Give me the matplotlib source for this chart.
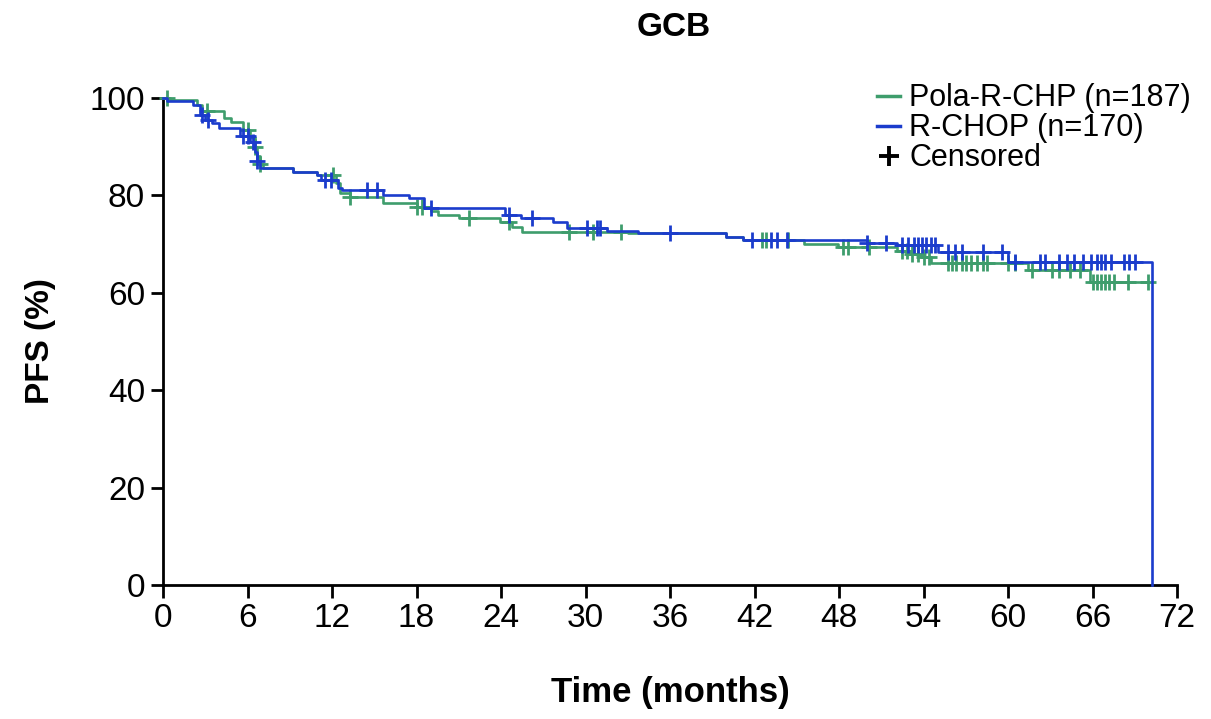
import numpy as np
import matplotlib
matplotlib.use("Agg")
import matplotlib.pyplot as plt
from matplotlib.lines import Line2D

plt.rcParams['font.family'] = ['Liberation Sans', 'DejaVu Sans']

# ---- data ----
pola_times = [0, 0.5, 2.4, 2.8, 4.3, 4.8, 5.7, 6.2, 6.5, 6.7, 6.9, 7.1, 9.2, 10.9,
              12.3, 12.6, 13.3, 15.6, 18.0, 19.0, 19.5, 21.0, 23.9, 24.8, 25.5,
              33.0, 40.0, 41.2, 45.5, 47.9, 52.1, 53.0, 53.8, 54.5, 61.4, 65.8, 69.9]
pola_surv = [100, 99.5, 98.5, 97.3, 95.8, 95.0, 93.4, 92.0, 90.0, 88.0, 86.5, 85.6, 84.8, 84.2,
             82.5, 80.5, 79.7, 78.4, 77.6, 76.8, 76.0, 75.4, 74.6, 73.5, 72.5,
             72.2, 71.5, 70.8, 70.0, 69.4, 68.6, 68.0, 67.4, 66.1, 64.7, 62.2, 62.2]
pola_cens = [0.3, 3.1, 6.0, 6.5, 6.9, 12.1, 13.3, 18.0, 18.4, 21.7, 24.6, 28.8, 30.5, 32.5,
             42.5, 42.8, 44.4, 48.3, 48.6, 50.1, 52.5, 52.8, 53.2, 53.6, 54.0, 54.4, 55.7,
             56.0, 56.3, 56.7, 57.0, 57.4, 57.8, 58.2, 58.5, 60.0, 60.5, 61.7, 63.1, 63.6,
             64.4, 65.1, 66.0, 66.3, 66.6, 66.9, 67.2, 67.5, 68.5, 69.9]

rchop_times = [0, 0.3, 2.1, 2.6, 3.0, 3.5, 4.0, 5.5, 6.2, 6.5, 6.7, 6.9, 9.2, 10.9, 11.2,
               12.4, 12.7, 15.6, 17.5, 18.5, 24.3, 25.4, 27.7, 28.7, 31.5, 33.7, 40.0,
               41.2, 50.0, 52.1, 55.0, 60.0, 70.2, 70.2]
rchop_surv = [100, 99.3, 98.6, 96.5, 95.5, 94.8, 93.8, 92.2, 91.0, 89.0, 87.0, 85.6, 84.8, 84.2, 83.2,
              81.5, 81.1, 80.1, 79.5, 77.4, 76.0, 75.4, 74.6, 73.3, 72.7, 72.3, 71.5,
              70.8, 70.2, 69.8, 68.4, 66.3, 66.3, 0]
rchop_cens = [2.8, 3.2, 5.7, 6.0, 6.4, 6.7, 11.5, 11.9, 14.5, 15.2, 19.0, 24.6, 26.2, 30.1,
              30.8, 31.0, 36.0, 41.8, 43.2, 43.6, 44.3, 50.0, 51.3, 52.5, 52.9, 53.3, 53.6,
              53.9, 54.2, 54.5, 54.8, 55.7, 56.2, 56.7, 58.2, 59.6, 60.5, 62.3, 62.6, 63.6,
              64.2, 64.7, 65.3, 65.9, 66.3, 66.6, 66.9, 67.3, 68.2, 68.6, 69.0]

x_ticks = [0, 6, 12, 18, 24, 30, 36, 42, 48, 54, 60, 66, 72]
y_ticks = [0, 20, 40, 60, 80, 100]

GREEN = '#3e9d6c'
BLUE = '#1b3ccc'


def step_value(times, surv, t):
    idx = np.searchsorted(np.asarray(times), t, side='right') - 1
    return np.asarray(surv)[idx]


fig = plt.figure(figsize=(12.11, 7.19), dpi=100)
ax = fig.add_axes([0.1346, 0.1864, 0.8374, 0.6773])

ax.step(pola_times, pola_surv, where='post', color=GREEN, lw=1.9, clip_on=False, zorder=3)
ax.step(rchop_times, rchop_surv, where='post', color=BLUE, lw=1.9, clip_on=False, zorder=4)

pc = np.array(pola_cens)
ax.plot(pc, [step_value(pola_times, pola_surv, c) for c in pc], ls='none', marker='+',
        ms=12, mew=2.0, color=GREEN, clip_on=False, zorder=3)
rc = np.array(rchop_cens)
ax.plot(rc, [step_value(rchop_times, rchop_surv, c) for c in rc], ls='none', marker='+',
        ms=12, mew=2.0, color=BLUE, clip_on=False, zorder=4)

ax.set_xlim(0, 72)
ax.set_ylim(0, 100)
ax.set_xticks(x_ticks)
ax.set_yticks(y_ticks)
ax.tick_params(axis='both', labelsize=24, width=2, length=9, direction='out', color='black', pad=4)
for s in ['top', 'right']:
    ax.spines[s].set_visible(False)
for s in ['left', 'bottom']:
    ax.spines[s].set_linewidth(2)

ax.set_xlabel('Time (months)', fontsize=25, fontweight='bold', labelpad=30)
ax.set_ylabel('PFS (%)', fontsize=24, fontweight='bold', labelpad=24)
fig.text(674 / 1211, 1 - 27 / 719, 'GCB', fontsize=24, fontweight='bold', ha='center', va='center')

handles = [Line2D([], [], color=GREEN, lw=2.5),
           Line2D([], [], color=BLUE, lw=2.5),
           Line2D([], [], ls='none', marker='+', ms=15, mew=2.8, color='black')]
labels = ['Pola-R-CHP (n=187)', 'R-CHOP (n=170)', 'Censored']
leg = ax.legend(handles, labels, loc='upper right', bbox_to_anchor=(1.026, 1.055), frameon=False,
                fontsize=22, handlelength=0.75, handletextpad=0.3, labelspacing=0.0,
                borderaxespad=0)

fig.savefig('out.png', dpi=100)
